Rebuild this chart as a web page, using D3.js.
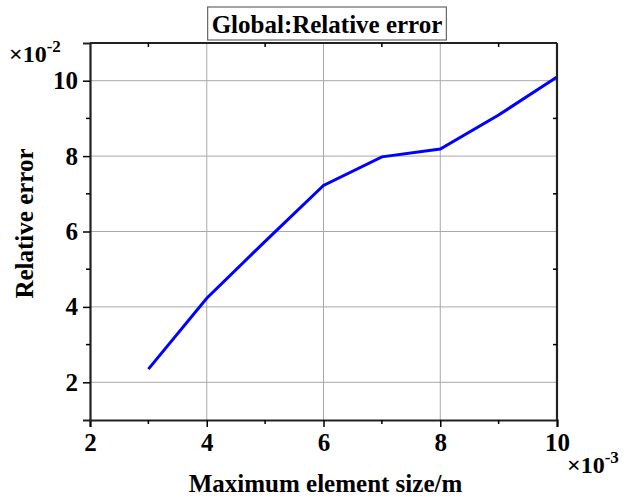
<!DOCTYPE html>
<html lang="en">
<head>
	<meta charset="utf-8">
	<title>Global:Relative error</title>
	<script type="text/javascript" src="https://d3js.org/d3.v7.min.js"></script>
	<style type="text/css">
		body { margin: 0; background: #fff; }
		text { font-family: "Liberation Serif", "Times New Roman", serif; font-weight: bold; fill: #000; }
	</style>
</head>
<body>
	<script type="text/javascript">
		// Size of the picture
		var w = 627;
		var h = 498;
		var margin = { top: 43, right: 70, bottom: 78, left: 90 };

		// Data (x in 1e-3 m, y in 1e-2)
		var elementSize = [3, 4, 5, 6, 7, 8, 9, 10];
		var relError = [2.35, 4.23, 5.74, 7.22, 7.98, 8.19, 9.09, 10.1];
		var xTicks = [2, 4, 6, 8, 10];
		var yTicks = [2, 4, 6, 8, 10];
		var xMinor = [3, 5, 7, 9];
		var yMinor = [3, 5, 7, 9];

		var svg = d3.select("body")
			.append("svg")
			.attr("width", w)
			.attr("height", h);

		var x = d3.scaleLinear().domain([2, 10]).range([margin.left, w - margin.right]);
		var y = d3.scaleLinear().domain([1, 11]).range([h - margin.bottom, margin.top]);

		var x0 = x.range()[0], x1 = x.range()[1];
		var y0 = y.range()[0], y1 = y.range()[1];

		// grid lines
		svg.append("g").selectAll("line")
			.data(xTicks.slice(1, -1))
			.enter().append("line")
			.attr("x1", function(d) { return x(d); })
			.attr("x2", function(d) { return x(d); })
			.attr("y1", y1).attr("y2", y0)
			.attr("stroke", "#a8a8a8").attr("stroke-width", 1);
		svg.append("g").selectAll("line")
			.data(yTicks)
			.enter().append("line")
			.attr("y1", function(d) { return y(d); })
			.attr("y2", function(d) { return y(d); })
			.attr("x1", x0).attr("x2", x1)
			.attr("stroke", "#a8a8a8").attr("stroke-width", 1);

		// the line
		var pts = elementSize.map(function(d, i) { return [d, relError[i]]; });
		svg.append("path")
			.datum(pts)
			.attr("fill", "none")
			.attr("stroke", "#0000ff")
			.attr("stroke-width", 3)
			.attr("d", d3.line()
				.x(function(d) { return x(d[0]); })
				.y(function(d) { return y(d[1]); }));

		// bottom axis
		var xAxis = svg.append("g")
			.attr("transform", "translate(0," + y0 + ")")
			.call(d3.axisBottom(x).tickValues(xTicks).tickSize(7).tickPadding(6).tickFormat(d3.format("d")));
		xAxis.selectAll("line.minor")
			.data(xMinor).enter().append("line")
			.attr("x1", function(d) { return x(d); }).attr("x2", function(d) { return x(d); })
			.attr("y1", 0).attr("y2", 4).attr("stroke", "#000").attr("stroke-width", 1.5);

		// left axis
		var yAxis = svg.append("g")
			.attr("transform", "translate(" + x0 + ",0)")
			.call(d3.axisLeft(y).tickValues(yTicks).tickSize(7).tickPadding(5).tickFormat(d3.format("d")));
		yAxis.selectAll("line.minor")
			.data(yMinor).enter().append("line")
			.attr("y1", function(d) { return y(d); }).attr("y2", function(d) { return y(d); })
			.attr("x1", 0).attr("x2", -4).attr("stroke", "#000").attr("stroke-width", 1.5);

		[xAxis, yAxis].forEach(function(g) {
			g.select(".domain").attr("stroke", "#222").attr("stroke-width", 2.2);
			g.selectAll(".tick line").attr("stroke", "#000").attr("stroke-width", 1.5);
			g.selectAll(".tick text")
				.attr("font-size", "25px")
				.attr("font-family", "Liberation Serif")
				.attr("font-weight", "bold")
				.attr("fill", "#000");
		});

		// top and right frame, with small inward ticks
		svg.append("line").attr("x1", x0).attr("x2", x1).attr("y1", y1).attr("y2", y1)
			.attr("stroke", "#222").attr("stroke-width", 2.2);
		svg.append("line").attr("x1", x1).attr("x2", x1).attr("y1", y1).attr("y2", y0)
			.attr("stroke", "#222").attr("stroke-width", 2.2);
		svg.append("g").selectAll("line")
			.data(xMinor).enter().append("line")
			.attr("x1", function(d) { return x(d); }).attr("x2", function(d) { return x(d); })
			.attr("y1", y1).attr("y2", y1 + 4).attr("stroke", "#000").attr("stroke-width", 1.5);
		svg.append("g").selectAll("line")
			.data(yMinor).enter().append("line")
			.attr("y1", function(d) { return y(d); }).attr("y2", function(d) { return y(d); })
			.attr("x1", x1).attr("x2", x1 - 4).attr("stroke", "#000").attr("stroke-width", 1.5);

		// exponent labels
		var ey = svg.append("text").attr("x", 9).attr("y", 62).attr("font-size", "24px");
		ey.append("tspan").text("\u00d710");
		ey.append("tspan").attr("dy", -10).attr("font-size", "17px").text("-2");
		var ex = svg.append("text").attr("x", 567).attr("y", 473).attr("font-size", "24px");
		ex.append("tspan").text("\u00d710");
		ex.append("tspan").attr("dy", -10).attr("font-size", "17px").text("-3");

		// axis titles
		svg.append("text")
			.attr("x", (x0 + x1) / 2 + 2)
			.attr("y", 492)
			.attr("text-anchor", "middle")
			.attr("font-size", "25px")
			.text("Maximum element size/m");
		svg.append("text")
			.attr("transform", "translate(33," + ((y0 + y1) / 2 - 8) + ") rotate(-90)")
			.attr("text-anchor", "middle")
			.attr("font-size", "25px")
			.text("Relative error");

		// title in a box
		var title = svg.append("text")
			.attr("x", 327)
			.attr("y", 33)
			.attr("text-anchor", "middle")
			.attr("font-size", "25px")
			.text("Global:Relative error");
		var bb = title.node().getBBox();
		svg.insert("rect", function() { return title.node(); })
			.attr("x", bb.x - 4).attr("y", 7)
			.attr("width", bb.width + 8).attr("height", 33)
			.attr("fill", "#fff")
			.attr("stroke", "#666").attr("stroke-width", 1.2);
	</script>
</body>
</html>
